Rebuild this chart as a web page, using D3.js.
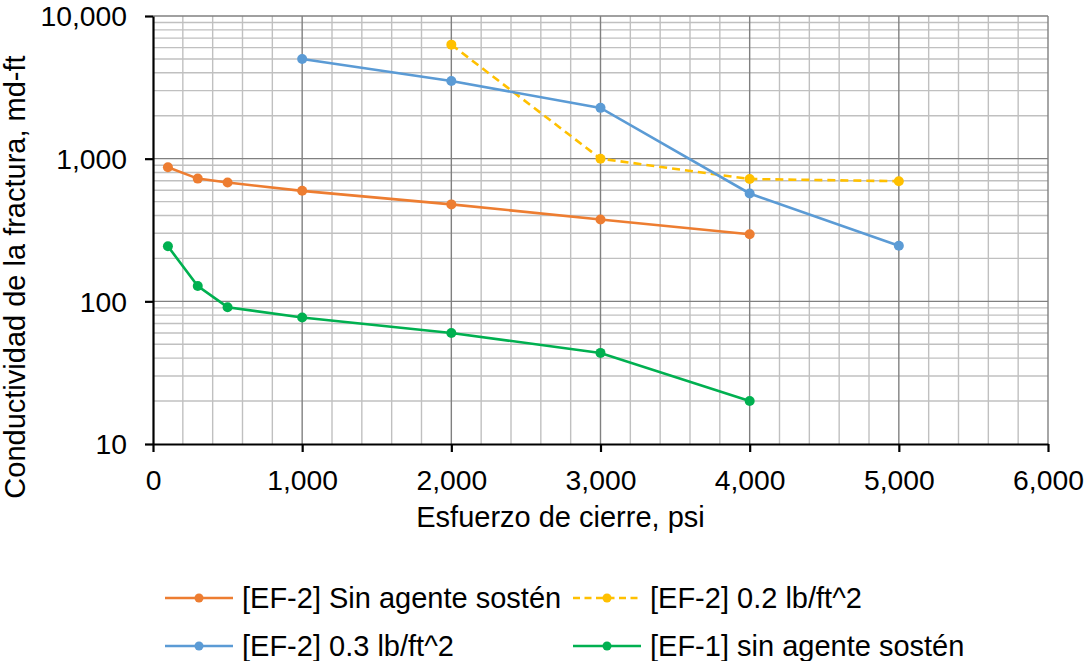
<!DOCTYPE html>
<html>
<head>
<meta charset="utf-8">
<script src="https://cdn.jsdelivr.net/npm/d3@7"></script>
<style>
  body { margin: 0; background: #fff; overflow: hidden; }
  svg { display: block; }
  text { font-family: "Liberation Sans", Arial, sans-serif; fill: #000; }
</style>
</head>
<body>
<div id="chart"></div>
<script>
// Data
const seriesNames = ["[EF-2] Sin agente sostén", "[EF-2] 0.2 lb/ft^2", "[EF-2] 0.3 lb/ft^2", "[EF-1] sin agente sostén"];
const seriesColors = ["#ED7D31", "#FFC000", "#5B9BD5", "#00B050"];
const seriesDashed = [false, true, false, false];

const xOrange = [100, 300, 500, 1000, 2000, 3000, 4000];
const yOrange = [870, 725, 680, 595, 478, 375, 295];
const xYellow = [2000, 3000, 4000, 5000];
const yYellow = [6300, 1000, 720, 695];
const xBlue = [1000, 2000, 3000, 4000, 5000];
const yBlue = [5000, 3500, 2270, 570, 245];
const xGreen = [100, 300, 500, 1000, 2000, 3000, 4000];
const yGreen = [243, 128, 91, 77, 60, 43.5, 20];

const xTicks = [0, 1000, 2000, 3000, 4000, 5000, 6000];
const yTicks = [10, 100, 1000, 10000];

const xTitle = "Esfuerzo de cierre, psi";
const yTitle = "Conductividad de la fractura, md-ft";

const width = 1086, height = 661;
const margin = { top: 16, left: 153, right: 38, bottom: 217 };
const innerWidth = width - margin.left - margin.right;
const innerHeight = height - margin.top - margin.bottom;

const svg = d3.select("#chart")
  .append("svg")
    .attr("width", width)
    .attr("height", height);

const innerChart = svg.append("g")
  .attr("transform", `translate(${margin.left}, ${margin.top})`);

// Scales
const xScale = d3.scaleLinear().domain([0, 6000]).range([0, innerWidth]);
const yScale = d3.scaleLog().domain([10, 10000]).range([innerHeight, 0]);

// Minor grid
const xMinor = d3.range(0, 6001, 200).filter(v => v % 1000 !== 0);
const yMinor = [];
[10, 100, 1000].forEach(dec => { for (let k = 2; k <= 9; k++) yMinor.push(dec * k); });

innerChart.append("g").selectAll("line")
  .data(xMinor).join("line")
    .attr("x1", d => xScale(d)).attr("x2", d => xScale(d))
    .attr("y1", 0).attr("y2", innerHeight)
    .attr("stroke", "#C0C0C0").attr("stroke-width", 1.4);

innerChart.append("g").selectAll("line")
  .data(yMinor).join("line")
    .attr("x1", 0).attr("x2", innerWidth)
    .attr("y1", d => yScale(d)).attr("y2", d => yScale(d))
    .attr("stroke", "#C0C0C0").attr("stroke-width", 1.4);

// Major grid
innerChart.append("g").selectAll("line")
  .data(xTicks.slice(1)).join("line")
    .attr("x1", d => xScale(d)).attr("x2", d => xScale(d))
    .attr("y1", 0).attr("y2", innerHeight)
    .attr("stroke", "#808080").attr("stroke-width", 1.4);

innerChart.append("g").selectAll("line")
  .data(yTicks.slice(1)).join("line")
    .attr("x1", 0).attr("x2", innerWidth)
    .attr("y1", d => yScale(d)).attr("y2", d => yScale(d))
    .attr("stroke", "#808080").attr("stroke-width", 1.4);

// Axes
const fmt = d3.format(",");
const bottomAxis = d3.axisBottom(xScale).tickValues(xTicks).tickFormat(fmt).tickSize(8).tickSizeOuter(0);
const xAxisG = innerChart.append("g")
  .attr("transform", `translate(0, ${innerHeight})`)
  .call(bottomAxis);
xAxisG.selectAll("text").attr("dy", null).attr("y", 46);

const leftAxis = d3.axisLeft(yScale).tickValues(yTicks).tickFormat(fmt).tickSize(8).tickSizeOuter(0);
const yAxisG = innerChart.append("g").call(leftAxis);
yAxisG.selectAll("text").attr("x", -26).attr("dy", "0.35em");

[xAxisG, yAxisG].forEach(g => {
  g.attr("font-size", null).attr("font-family", null);
  g.select(".domain").attr("stroke", "#000").attr("stroke-width", 2.2);
  g.selectAll(".tick line").attr("stroke", "#000").attr("stroke-width", 2.2);
  g.selectAll("text").attr("fill", "#000").style("font-size", "28.3px");
});

// Series
const seriesX = [xOrange, xYellow, xBlue, xGreen];
const seriesY = [yOrange, yYellow, yBlue, yGreen];

const lineGen = d3.line()
  .x(d => xScale(d[0]))
  .y(d => yScale(d[1]));

seriesNames.forEach((name, i) => {
  const pts = seriesX[i].map((x, j) => [x, seriesY[i][j]]);
  innerChart.append("path")
    .attr("d", lineGen(pts))
    .attr("fill", "none")
    .attr("stroke", seriesColors[i])
    .attr("stroke-width", 2.6)
    .attr("stroke-dasharray", seriesDashed[i] ? "8,5" : null);
  innerChart.selectAll(`.pt-${i}`)
    .data(pts).join("circle")
      .attr("class", `pt-${i}`)
      .attr("cx", d => xScale(d[0]))
      .attr("cy", d => yScale(d[1]))
      .attr("r", 5)
      .attr("fill", seriesColors[i]);
});

// Axis titles
svg.append("text")
  .attr("x", margin.left + innerWidth / 2 - 40)
  .attr("y", 527)
  .attr("text-anchor", "middle")
  .style("font-size", "29px")
  .text(xTitle);

svg.append("text")
  .attr("transform", `translate(25, 277) rotate(-90)`)
  .attr("text-anchor", "middle")
  .style("font-size", "29px")
  .text(yTitle);

// Legend
const legendPos = [[165, 598], [573, 598], [165, 646], [573, 646]];
seriesNames.forEach((name, i) => {
  const [lx, ly] = legendPos[i];
  const g = svg.append("g").attr("transform", `translate(${lx}, ${ly})`);
  g.append("line")
    .attr("x1", 0).attr("x2", 68).attr("y1", 0).attr("y2", 0)
    .attr("stroke", seriesColors[i]).attr("stroke-width", 2.6)
    .attr("stroke-dasharray", seriesDashed[i] ? "7,4.5" : null);
  g.append("circle").attr("cx", 34).attr("cy", 0).attr("r", 4.5).attr("fill", seriesColors[i]);
  g.append("text")
    .attr("x", 77).attr("y", 0).attr("dy", "0.35em")
    .style("font-size", "29px")
    .text(name);
});
</script>
</body>
</html>
